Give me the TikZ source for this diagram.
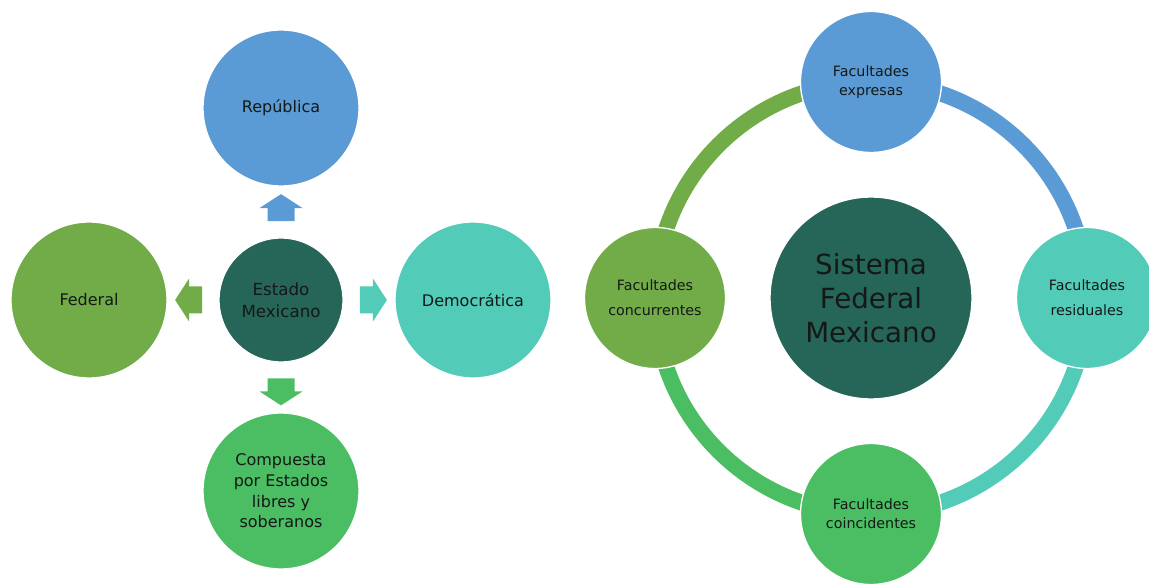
\documentclass[tikz,border=0pt]{standalone}
\usepackage{fontspec}
\setmainfont{DejaVu Sans}
\usetikzlibrary{shapes.arrows,calc}

\definecolor{cBlue}{RGB}{91,155,213}
\definecolor{cTeal}{RGB}{82,203,184}
\definecolor{cGreen}{RGB}{75,190,100}
\definecolor{cOlive}{RGB}{114,172,72}
\definecolor{cDark}{RGB}{38,102,88}
\definecolor{cText}{RGB}{20,24,22}

\tikzset{every picture/.style={line width=0.75pt}}
\tikzset{
  bubble/.style={circle,draw=white,line width=1pt,fill=#1,text=cText,align=center,inner sep=0pt},
  bigbubble/.style={bubble=#1,minimum size=117pt,font=\fontsize{12}{15.5}\selectfont},
  hubbubble/.style={bubble=#1,minimum size=93pt,font=\fontsize{12.5}{16.3}\selectfont},
  facbubble/.style={bubble=#1,minimum size=105.75pt,font=\fontsize{10.7}{14.3}\selectfont},
  blockarrow/.style={single arrow,fill=#1,draw=none,inner xsep=0pt,inner ysep=9.75pt,
    minimum height=20.25pt,single arrow head extend=6pt,single arrow tip angle=114},
  ring/.style={draw=#1,line width=12pt}
}

\begin{document}
\begin{tikzpicture}[x=0.75pt,y=0.75pt,yscale=-1,xscale=1]
        \useasboundingbox (0,0) rectangle (1149,584);

        %Estado Mexicano and its four traits
        \node [hubbubble=cDark] (estado) at (281,300) {Estado\\Mexicano};
        \node [bigbubble=cBlue] (rep) at (281,108) {República};
        \node [bigbubble=cOlive] (fed) at (89,300) {Federal};
        \node [bigbubble=cTeal] (dem) at (473,300) {Democrática};
        \node [bigbubble=cGreen] (comp) at (281,491) {Compuesta\\por Estados\\libres y\\soberanos};

        %Block arrows
        \node [blockarrow=cBlue,rotate=90] (aRep) at ($(estado.north)!0.5!(rep.south)$) {};
        \node [blockarrow=cOlive,rotate=180] (aFed) at ($(estado.west)!0.5!(fed.east)$) {};
        \node [blockarrow=cTeal] (aDem) at ($(estado.east)!0.5!(dem.west)$) {};
        \node [blockarrow=cGreen,rotate=-90] (aComp) at ($(estado.south)!0.5!(comp.north)$) {};

        %Sistema Federal Mexicano
        \node [bubble=cDark,minimum size=151.5pt,font=\fontsize{20.8}{25.5}\selectfont] (sfm) at (871,298) {Sistema\\Federal\\Mexicano};
        \coordinate (exp0) at (871,82);
        \coordinate (res0) at (1087,298);
        \coordinate (coi0) at (871,514);
        \coordinate (con0) at (655,298);

        %Ring segments
        \draw [ring=cBlue] (exp0) arc [start angle=-90, end angle=0, radius=216];
        \draw [ring=cTeal] (res0) arc [start angle=0, end angle=90, radius=216];
        \draw [ring=cGreen] (coi0) arc [start angle=90, end angle=180, radius=216];
        \draw [ring=cOlive] (con0) arc [start angle=180, end angle=270, radius=216];

        %Facultades
        \node [facbubble=cBlue] (exp) at (exp0) {Facultades\\expresas};
        \node [facbubble=cTeal,font=\fontsize{10.7}{18.75}\selectfont] (res) at (res0) {Facultades\\residuales};
        \node [facbubble=cGreen] (coi) at (coi0) {Facultades\\coincidentes};
        \node [facbubble=cOlive,font=\fontsize{10.7}{18.75}\selectfont] (con) at (con0) {Facultades\\concurrentes};
\end{tikzpicture}
\end{document}
